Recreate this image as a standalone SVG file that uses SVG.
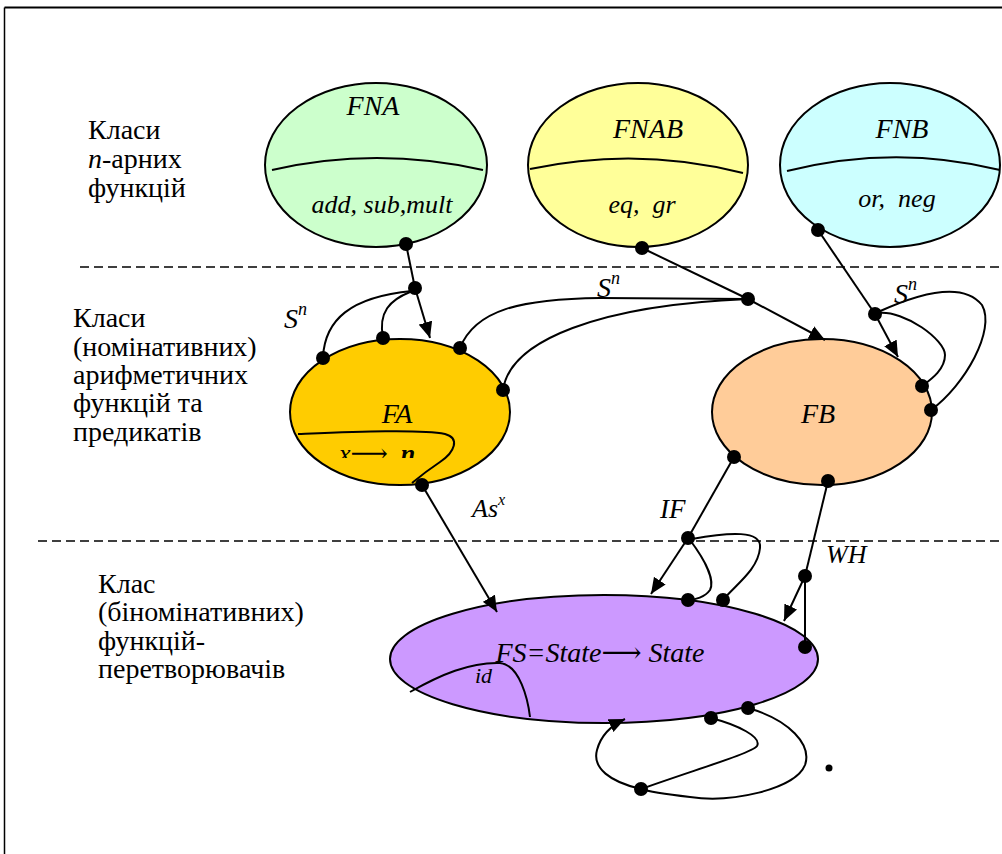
<svg xmlns="http://www.w3.org/2000/svg" width="1002" height="854" viewBox="0 0 1002 854">
<style>
.node{stroke:#000;stroke-width:2}
.t{font-family:'Liberation Serif','DejaVu Serif',serif;fill:#000}
.it{font-style:italic}
.side{font-size:28px}
.ttl{font-size:28px;font-style:italic}
.sub{font-size:26px;font-style:italic}
.c{fill:none;stroke:#000;stroke-width:2}
.dot{fill:#000}
.dash{stroke:#000;stroke-width:1.5;stroke-dasharray:9 5}
</style>
<defs>
<marker id="ah" markerUnits="userSpaceOnUse" markerWidth="17" markerHeight="14" refX="16" refY="7" orient="auto"><path d="M0,0 L16,7 L0,14 z" fill="#000"/></marker>
<clipPath id="clipx"><rect x="320" y="440" width="120" height="18"/></clipPath>
</defs>
<rect width="1002" height="854" fill="#fff"/>
<g id="frame">
<line x1="4.5" y1="7.5" x2="1002" y2="7.5" stroke="#000" stroke-width="2"/>
<line x1="4.5" y1="7.5" x2="4.5" y2="854" stroke="#000" stroke-width="1.5"/>
</g>
<g id="separators">
<line class="dash" x1="80" y1="267" x2="1000" y2="267"/>
<line class="dash" x1="38" y1="541" x2="1000" y2="541"/>
</g>
<g id="row-labels" class="t side" font-family="Liberation Serif, DejaVu Serif, serif">
<text x="88" y="139">Класи</text>
<text x="88" y="168"><tspan class="it">n</tspan>-арних</text>
<text x="88" y="197">функцій</text>
<text x="73" y="327">Класи</text>
<text x="73" y="356">(номінативних)</text>
<text x="73" y="384">арифметичних</text>
<text x="73" y="412">функцій та</text>
<text x="73" y="441">предикатів</text>
<text x="98" y="593">Клас</text>
<text x="98" y="621">(біномінативних)</text>
<text x="98" y="650">функцій-</text>
<text x="98" y="678">перетворювачів</text>
</g>
<g id="node-FNA" font-family="Liberation Serif, DejaVu Serif, serif">
<ellipse class="node" cx="376" cy="165" rx="111" ry="82" fill="#CCFFCC"/>
<path class="c" d="M272,170 Q376,146 483,170"/>
<text class="t ttl" x="373" y="115" text-anchor="middle">FNA</text>
<text class="t sub" x="382" y="213" text-anchor="middle">add, sub,mult</text>
</g>
<g id="node-FNAB" font-family="Liberation Serif, DejaVu Serif, serif">
<ellipse class="node" cx="638" cy="165" rx="110" ry="82" fill="#FFFF99"/>
<path class="c" d="M530,169 Q637,146 743,173"/>
<text class="t ttl" x="648" y="138" text-anchor="middle">FNAB</text>
<text class="t sub" x="642" y="213" text-anchor="middle" xml:space="preserve">eq,  gr</text>
</g>
<g id="node-FNB" font-family="Liberation Serif, DejaVu Serif, serif">
<ellipse class="node" cx="890" cy="165" rx="110" ry="82" fill="#CCFFFF"/>
<path class="c" d="M787,171 Q895,144 1000,170"/>
<text class="t ttl" x="902" y="138" text-anchor="middle">FNB</text>
<text class="t sub" x="897" y="207" text-anchor="middle" xml:space="preserve">or,  neg</text>
</g>
<g id="node-FA" font-family="Liberation Serif, DejaVu Serif, serif">
<ellipse class="node" cx="400" cy="412" rx="110" ry="73" fill="#FFCC00"/>
<text class="t ttl" x="397" y="423" text-anchor="middle">FA</text>
<path class="c" d="M298,434 C350,432 420,429 445,434 C460,438 455,452 440,462 C428,470 418,478 412,483"/>
<text class="t" font-size="26" x="339" y="462" clip-path="url(#clipx)" xml:space="preserve"><tspan font-style="italic">x</tspan>⟶  <tspan font-style="italic" font-weight="bold">n</tspan></text>
</g>
<g id="node-FB" font-family="Liberation Serif, DejaVu Serif, serif">
<ellipse class="node" cx="822" cy="412" rx="110" ry="73" fill="#FFCC99"/>
<text class="t ttl" x="818" y="423" text-anchor="middle">FB</text>
</g>
<g id="node-FS" font-family="Liberation Serif, DejaVu Serif, serif">
<ellipse class="node" cx="604" cy="659" rx="214" ry="64" fill="#CC99FF"/>
<text class="t ttl" font-size="26" x="600" y="662" text-anchor="middle">FS=State⟶ State</text>
<path class="c" d="M410,692 C440,675 470,662 500,663 C520,665 528,700 530,717"/>
<text class="t it" font-size="22" x="475" y="683">id</text>
</g>
<g id="connectors">
<path class="c" d="M406,244 L415,288"/>
<path class="c" d="M415,288 L430,338" marker-end="url(#ah)"/>
<path class="c" d="M412,291 C350,297 325,320 323,357"/>
<path class="c" d="M410,292 C390,300 378,312 383,338"/>
<path class="c" d="M642,248 L748,299"/>
<path class="c" d="M748,299 L825,340" marker-end="url(#ah)"/>
<path class="c" d="M460,348 C475,310 520,299 600,298 L748,299"/>
<path class="c" d="M503,390 C510,340 600,305 748,299"/>
<path class="c" d="M818,230 L875,314"/>
<path class="c" d="M875,314 L898,357" marker-end="url(#ah)"/>
<path class="c" d="M878,313 C905,310 945,340 945,355 C945,370 930,380 922,386"/>
<path class="c" d="M878,312 C915,295 962,280 982,305 C996,330 965,385 931,410"/>
<path class="c" d="M422,485 L497,612" marker-end="url(#ah)"/>
<path class="c" d="M734,457 L688,538"/>
<path class="c" d="M688,538 L651,594" marker-end="url(#ah)"/>
<path class="c" d="M690,540 C705,560 715,580 710,590 C705,597 695,600 688,600"/>
<path class="c" d="M692,539 C730,532 762,530 760,548 C758,570 735,585 723,600"/>
<path class="c" d="M828,481 L805,576"/>
<path class="c" d="M805,576 L784,621" marker-end="url(#ah)"/>
<path class="c" d="M805,576 L805,647"/>
<path class="c" d="M711,718 C738,725 762,737 757,746 C752,753 700,768 641,789"/>
<path class="c" d="M748,708 C790,720 812,745 805,765 C795,790 730,803 690,797 C665,794 650,792 641,789"/>
<path class="c" d="M641,789 C610,782 592,768 597,750 C601,735 612,725 625,719" marker-end="url(#ah)"/>
<g class="dot">
<circle cx="406" cy="244" r="7"/>
<circle cx="415" cy="288" r="7"/>
<circle cx="323" cy="358" r="7"/>
<circle cx="383" cy="338" r="7"/>
<circle cx="460" cy="348" r="7"/>
<circle cx="503" cy="390" r="7"/>
<circle cx="422" cy="485" r="7"/>
<circle cx="642" cy="248" r="7"/>
<circle cx="748" cy="299" r="7"/>
<circle cx="818" cy="230" r="7"/>
<circle cx="875" cy="314" r="7"/>
<circle cx="922" cy="386" r="7"/>
<circle cx="931" cy="410" r="7"/>
<circle cx="734" cy="457" r="7"/>
<circle cx="828" cy="481" r="7"/>
<circle cx="688" cy="538" r="7"/>
<circle cx="688" cy="600" r="7"/>
<circle cx="723" cy="600" r="7"/>
<circle cx="805" cy="576" r="7"/>
<circle cx="805" cy="647" r="7"/>
<circle cx="711" cy="718" r="7"/>
<circle cx="748" cy="708" r="7"/>
<circle cx="641" cy="789" r="7"/>
<circle cx="829" cy="768" r="3.5"/>
</g>
</g>
<g id="connector-labels" class="t it" font-family="Liberation Serif, DejaVu Serif, serif">
<text font-size="28" x="284" y="328">S<tspan font-size="18" dy="-13">n</tspan></text>
<text font-size="28" x="597" y="297">S<tspan font-size="18" dy="-13">n</tspan></text>
<text font-size="28" x="894" y="303">S<tspan font-size="18" dy="-13">n</tspan></text>
<text font-size="26" x="472" y="517">As<tspan font-size="16" dy="-12">x</tspan></text>
<text font-size="27" x="660" y="518">IF</text>
<text font-size="26" x="826" y="563">WH</text>
</g>
</svg>
